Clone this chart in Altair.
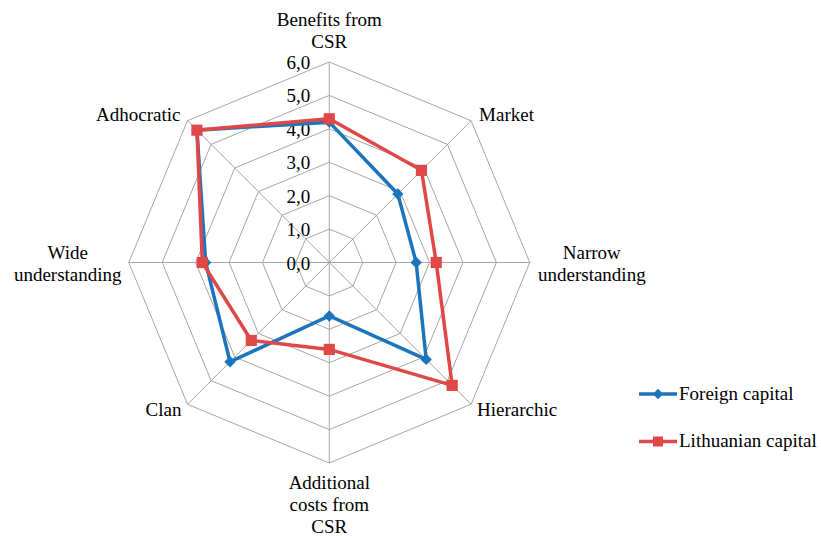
import altair as alt
import pandas as pd

# ---------------- data ----------------
categories = ["Benefits from CSR", "Market", "Narrow understanding", "Hierarchic",
              "Additional costs from CSR", "Clan", "Wide understanding", "Adhocratic"]
label_text = ["Benefits from\nCSR", "Market", "Narrow\nunderstanding", "Hierarchic",
              "Additional\ncosts from\nCSR", "Clan", "Wide\nunderstanding", "Adhocratic"]
series_names = ["Foreign capital", "Lithuanian capital"]
foreign = [4.2, 2.9, 2.6, 4.1, 1.6, 4.2, 3.7, 5.6]
lithuanian = [4.3, 3.9, 3.2, 5.2, 2.6, 3.3, 3.8, 5.6]
tick_values = [0, 1, 2, 3, 4, 5, 6]
tick_labels = ["0,0", "1,0", "2,0", "3,0", "4,0", "5,0", "6,0"]

colors = ["#1C75BC", "#E04848"]
FONT = "Liberation Serif"
FS = 19
N = len(categories)
RMAX = tick_values[-1]

# ---------------- tables ----------------
rows = []
for s, vals in zip(series_names, [foreign, lithuanian]):
    for i in range(N + 1):
        rows.append({"series": s, "idx": i, "category": categories[i % N], "value": vals[i % N]})
series_df = pd.DataFrame(rows)

grid_df = pd.DataFrame([{"level": lv, "idx": i, "value": lv}
                        for lv in tick_values[1:] for i in range(N + 1)])
spoke_df = pd.DataFrame({"idx": list(range(N)), "value": [RMAX] * N})
tick_df = pd.DataFrame({"value": tick_values, "label": tick_labels})
label_df = pd.DataFrame({"idx": list(range(N)), "category": categories,
                         "text": label_text, "value": [RMAX] * N})

xs = alt.Scale(domain=[-9.853, 14.713], nice=False, zero=False)
ys = alt.Scale(domain=[-8.184, 7.855], nice=False, zero=False)


def polar(ch):
    return ch.transform_calculate(
        ang="datum.idx * PI / 4",
    ).transform_calculate(
        px="datum.value * sin(datum.ang)",
        py="datum.value * cos(datum.ang)",
    )


def X(f="px"):
    return alt.X(f"{f}:Q", scale=xs, axis=None)


def Y(f="py"):
    return alt.Y(f"{f}:Q", scale=ys, axis=None)


GRID = "#A6A6A6"

grid = polar(alt.Chart(grid_df)).mark_line(color=GRID, strokeWidth=1).encode(
    x=X(), y=Y(), detail="level:N", order="idx:Q")

spokes = polar(alt.Chart(spoke_df)).transform_calculate(zero="0").mark_rule(
    color=GRID, strokeWidth=1).encode(
    x=alt.X("zero:Q", scale=xs, axis=None), y=alt.Y("zero:Q", scale=ys, axis=None),
    x2="px:Q", y2="py:Q")

ticks = alt.Chart(tick_df).transform_calculate(zero="0").mark_text(
    font=FONT, fontSize=FS, align="right", baseline="middle", dx=-19, dy=1, color="black"
).encode(x=alt.X("zero:Q", scale=xs, axis=None), y=alt.Y("value:Q", scale=ys, axis=None),
         text="label:N")

layers = [grid, spokes, ticks]
for s, col, shp, sz in zip(series_names, colors, ["diamond", "square"], [130, 125]):
    base = polar(alt.Chart(series_df)).transform_filter(alt.datum.series == s)
    line = base.mark_line(strokeWidth=3.5, color=col).encode(
        x=X(), y=Y(), order="idx:Q")
    pts = base.transform_filter("datum.idx < 8").mark_point(
        filled=True, shape=shp, size=sz, opacity=1, color=col).encode(x=X(), y=Y())
    layers += [line, pts]

# category labels (dy places the first line; following lines go below)
label_style = [
    dict(align="center", dx=0, dy=-42),
    dict(align="left", dx=8, dy=-6),
    dict(align="center", dx=62, dy=-10),
    dict(align="left", dx=6, dy=6),
    dict(align="center", dx=0, dy=20),
    dict(align="right", dx=-6, dy=6),
    dict(align="center", dx=-61, dy=-10),
    dict(align="right", dx=-7, dy=-6),
]
for i, st in enumerate(label_style):
    lab = polar(alt.Chart(label_df)).transform_filter(alt.datum.idx == i).mark_text(
        font=FONT, fontSize=FS, baseline="middle", lineBreak="\n", lineHeight=22,
        color="black", **st).encode(x=X(), y=Y(), text="text:N")
    layers.append(lab)

# legend (line + marker symbols); the legend layer's own marks have size 0
leg_paths = ["M-1,0H1M0,-0.14L0.14,0L0,0.14L-0.14,0Z",
             "M-1,0H1M-0.17,-0.17H0.17V0.17H-0.17Z"]
leg_common = dict(orient="none", legendX=637, legendY=373, padding=0, title=None,
                  labelFont=FONT, labelFontSize=FS, labelColor="black", rowPadding=16.4,
                  labelOffset=0, symbolStrokeWidth=3.5, symbolSize=1444, labelLimit=400,
                  symbolOpacity=1)
legend_layer = polar(alt.Chart(series_df)).transform_filter("datum.idx == 0").mark_point(
    filled=True, size=0, opacity=1).encode(
    x=X(), y=Y(),
    fill=alt.Fill("series:N", scale=alt.Scale(domain=series_names, range=colors),
                  legend=alt.Legend(**leg_common)),
    stroke=alt.Stroke("series:N", scale=alt.Scale(domain=series_names, range=colors),
                      legend=alt.Legend(**leg_common)),
    shape=alt.Shape("series:N", scale=alt.Scale(domain=series_names, range=leg_paths),
                    legend=alt.Legend(**leg_common)),
)
layers.append(legend_layer)

chart = alt.layer(*layers).properties(
    width=821, height=536, autosize=alt.AutoSizeParams(type="none"), padding=0,
    background="white",
).configure_view(stroke=None)

chart.save("out.html", embed_options={"renderer": "svg", "actions": False})
